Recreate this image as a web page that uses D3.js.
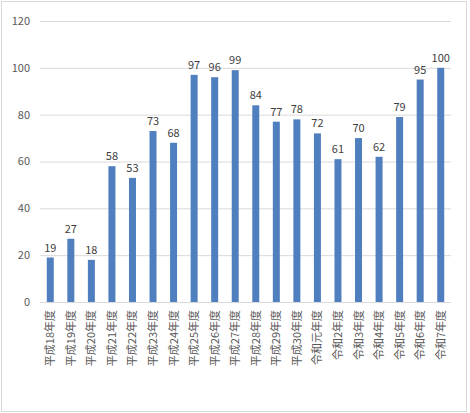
<!DOCTYPE html>
<html><head><meta charset="utf-8">
<script src="https://cdn.jsdelivr.net/npm/d3@7"></script>
<style>body{margin:0;background:#fff}</style>
</head><body>
<div id="chart"></div>
<script>
// categories and values
var years = ["平成18年度","平成19年度","平成20年度","平成21年度","平成22年度","平成23年度","平成24年度",
  "平成25年度","平成26年度","平成27年度","平成28年度","平成29年度","平成30年度","令和元年度",
  "令和2年度","令和3年度","令和4年度","令和5年度","令和6年度","令和7年度"];
var counts = [19,27,18,58,53,73,68,97,96,99,84,77,78,72,61,70,62,79,95,100];
var yTicks = [0,20,40,60,80,100,120];

var svgWidth = 470, svgHeight = 413;
var margin = {top: 21, right: 19, bottom: 111, left: 40};
var chartWidth = svgWidth - margin.left - margin.right;
var chartHeight = svgHeight - margin.top - margin.bottom;
var font = "'Noto Sans CJK JP', sans-serif";

var svg = d3.select("#chart").append("svg")
  .attr("width", svgWidth).attr("height", svgHeight);

// outer border
svg.append("rect").attr("x", 1.5).attr("y", 1.5)
  .attr("width", svgWidth - 5).attr("height", svgHeight - 3)
  .attr("fill", "none").attr("stroke", "#d9d9d9");

var g = svg.append("g").attr("transform", `translate(${margin.left},${margin.top})`);

var x = d3.scaleBand().domain(years).range([0, chartWidth]).paddingInner(0.66).paddingOuter(0.33);
var y = d3.scaleLinear().domain([0, 120]).range([chartHeight, 0]);

// gridlines
g.selectAll(".grid").data(yTicks).enter().append("line")
  .attr("x1", 0).attr("x2", chartWidth)
  .attr("y1", d => y(d) + 0.5).attr("y2", d => y(d) + 0.5)
  .attr("stroke", "#d9d9d9");

// y tick labels
g.selectAll(".ytl").data(yTicks).enter().append("text")
  .attr("x", -10).attr("y", d => y(d)).attr("dy", "0.35em")
  .attr("text-anchor", "end").attr("font-family", font).attr("font-size", 11)
  .attr("fill", "#595959").text(d => d);

// bars
g.selectAll(".bar").data(counts).enter().append("rect")
  .attr("x", (d, i) => x(years[i])).attr("width", x.bandwidth())
  .attr("y", d => y(d)).attr("height", d => chartHeight - y(d))
  .attr("fill", "#4f7fbf");

// value labels
g.selectAll(".val").data(counts).enter().append("text")
  .attr("x", (d, i) => x(years[i]) + x.bandwidth() / 2).attr("y", d => y(d) - 6)
  .attr("text-anchor", "middle").attr("font-family", font).attr("font-size", 11)
  .attr("fill", "#404040").text(d => d);

// category labels, rotated
g.selectAll(".cat").data(years).enter().append("text")
  .attr("transform", d => `translate(${x(d) + x.bandwidth() / 2 + 4},${chartHeight + 8}) rotate(-90)`)
  .attr("text-anchor", "end").attr("font-family", font).attr("font-size", 11)
  .attr("fill", "#595959").text(d => d);
</script>
</body></html>
